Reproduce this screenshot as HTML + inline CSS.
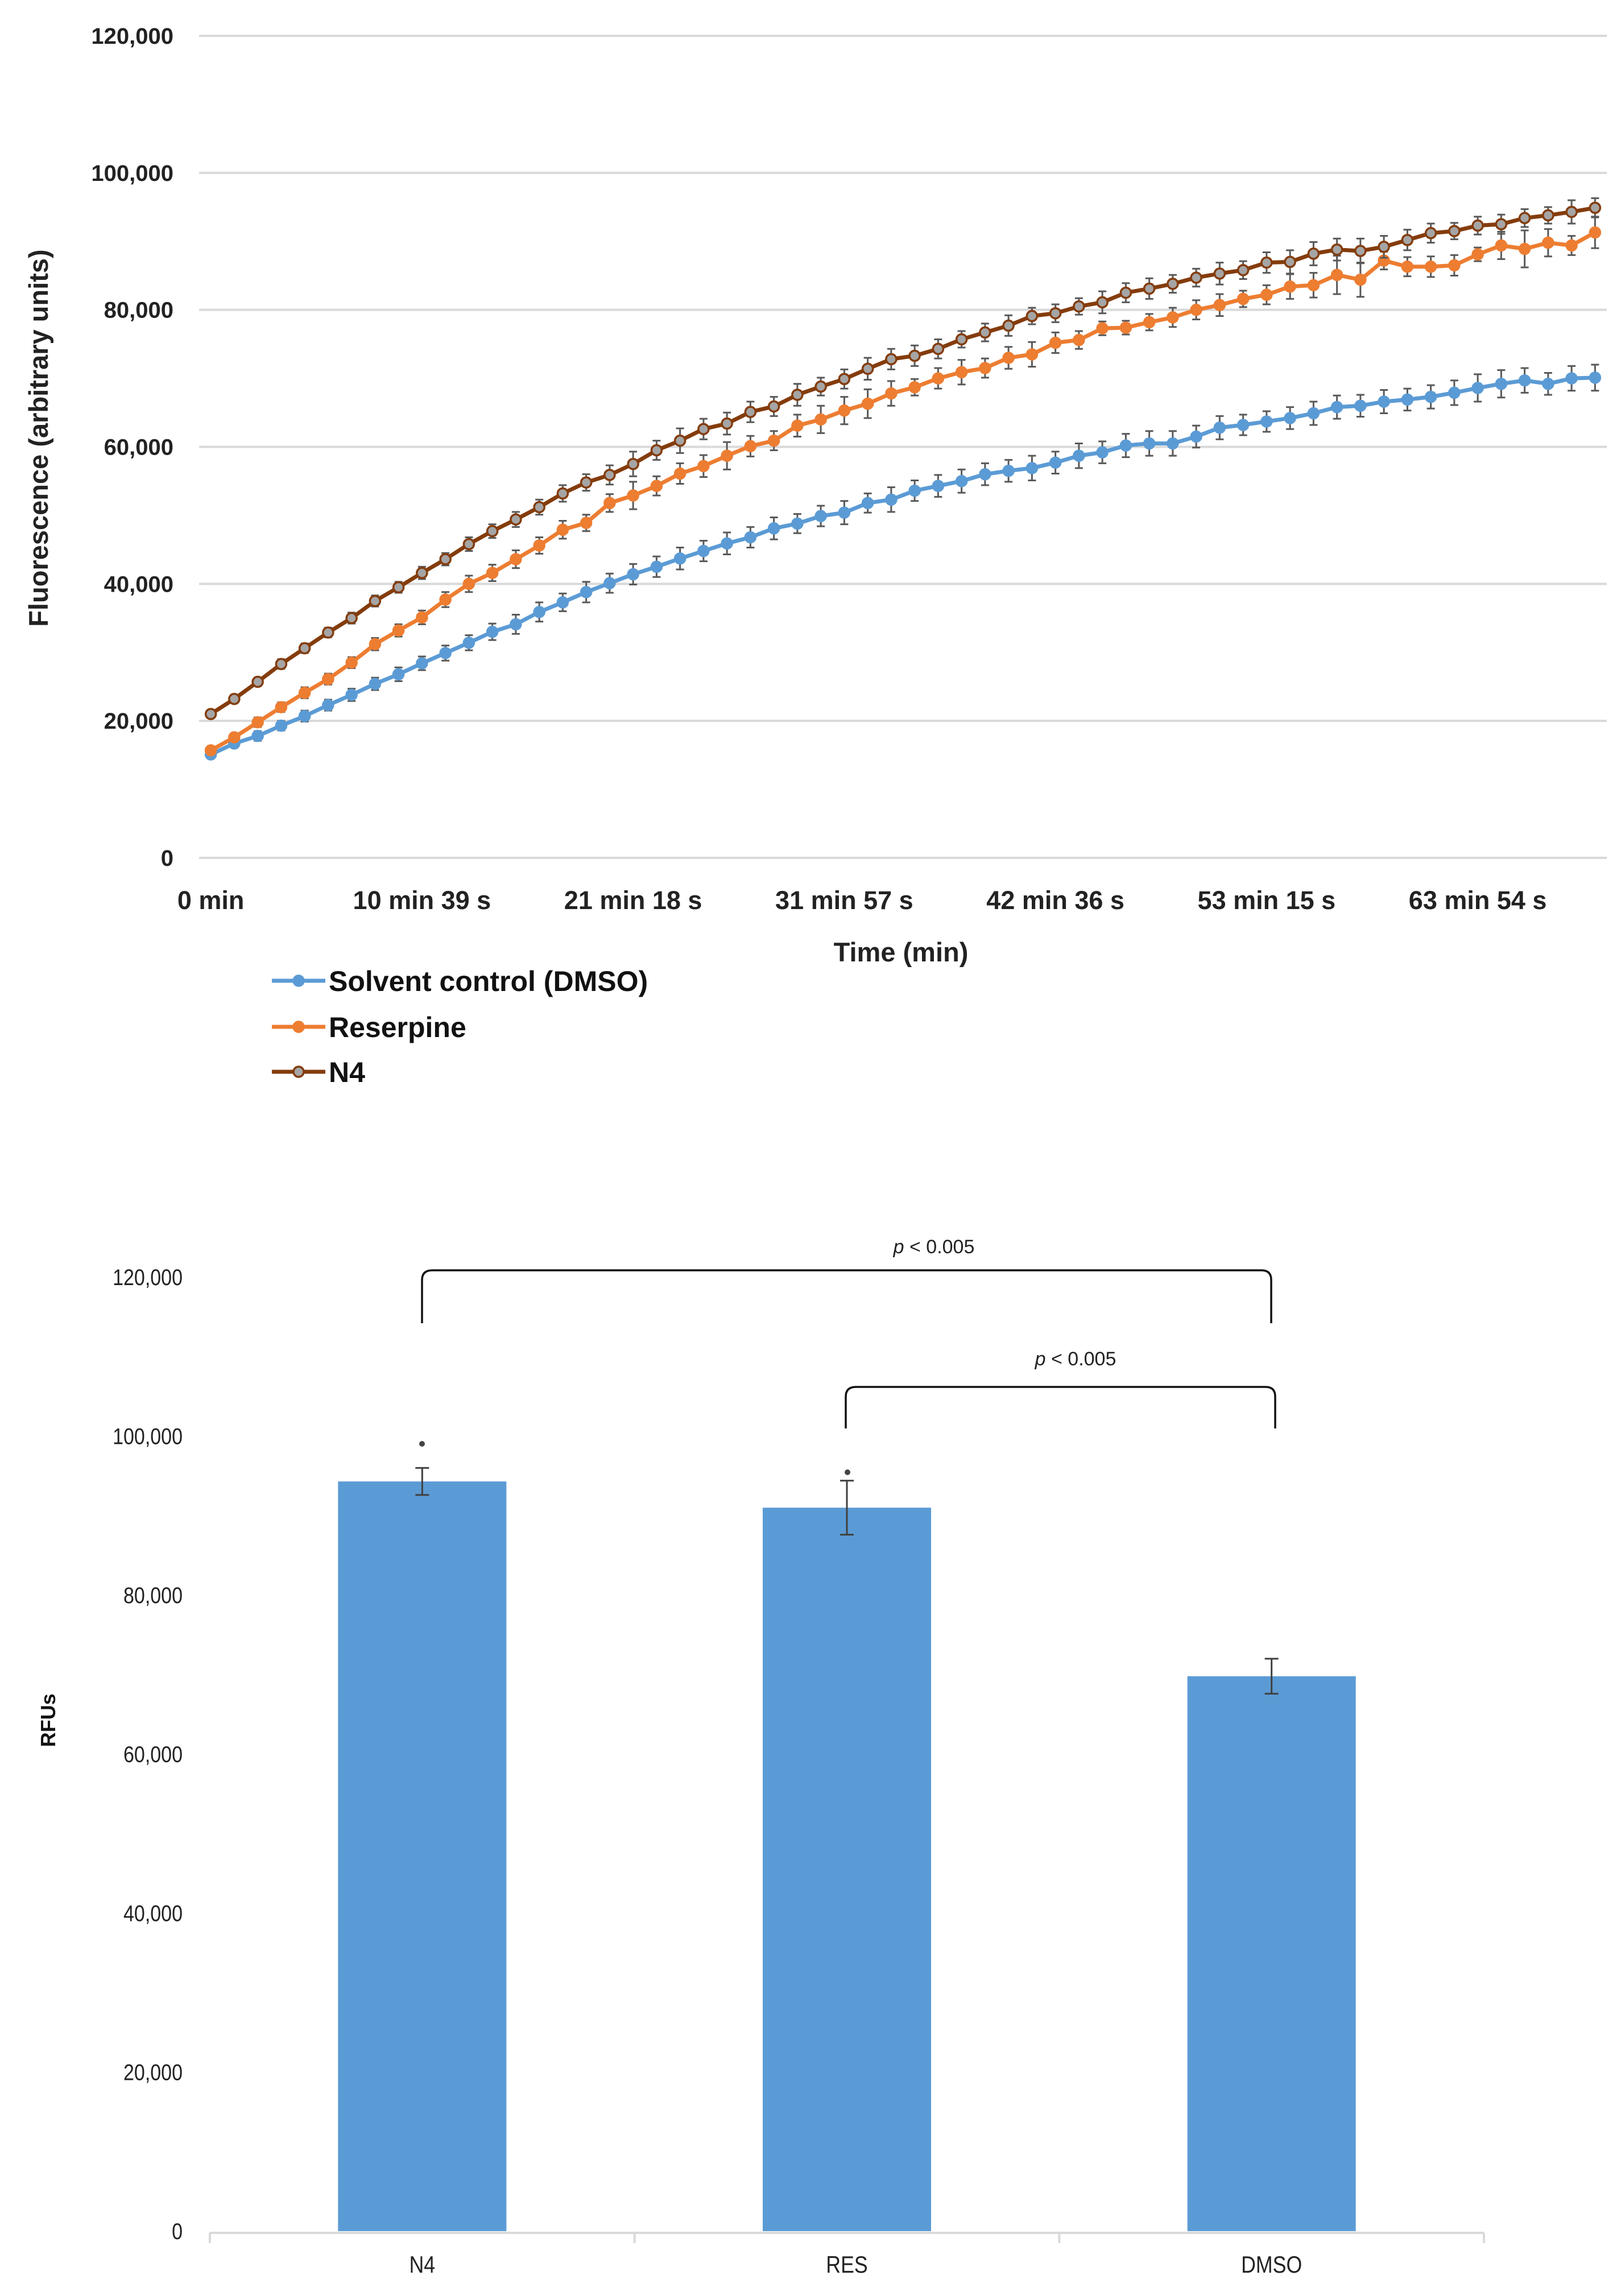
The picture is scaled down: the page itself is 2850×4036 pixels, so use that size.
<!DOCTYPE html>
<html><head><meta charset="utf-8"><style>
html,body{margin:0;padding:0;background:#fff;}
svg{display:block;}
text{font-family:"Liberation Sans",sans-serif;}
</style></head><body>
<svg id="chart" width="2850" height="4036" viewBox="0 0 2850 4036" xmlns="http://www.w3.org/2000/svg">
<g id="topChart"></g>
<g id="bottomChart"></g>
</svg>
<script>
// ---------- Line chart data (values in thousands) ----------
const dmsoValues = [15.1,16.7,17.8,19.3,20.7,22.3,23.8,25.4,26.8,28.4,29.9,31.4,33.0,34.1,35.9,37.3,38.8,40.1,41.4,42.5,43.7,44.8,45.9,46.8,48.1,48.8,
49.9,50.4,51.8,52.3,53.6,54.3,55.0,56.0,56.5,56.9,57.7,58.7,59.2,60.2,60.5,60.5,61.5,62.8,63.2,63.7,64.2,64.9,65.8,66.0,66.6,66.9,67.3,67.9,68.6,69.2,69.7,69.2,70.0,70.1];
const resValues = [15.7,17.6,19.8,22.0,24.1,26.1,28.5,31.2,33.2,35.1,37.7,40.0,41.6,43.6,45.6,47.9,48.9,51.8,52.9,54.3,56.1,57.2,58.7,60.1,60.9,63.1,
64.0,65.3,66.3,67.8,68.7,70.0,70.9,71.5,73.0,73.5,75.2,75.6,77.3,77.4,78.2,78.9,80.0,80.7,81.6,82.2,83.4,83.6,85.1,84.4,87.2,86.3,86.3,86.5,88.1,89.4,88.9,89.8,89.4,91.3];
const n4Values = [21.0,23.2,25.7,28.3,30.6,32.9,35.0,37.5,39.5,41.6,43.6,45.8,47.7,49.4,51.2,53.2,54.8,55.9,57.5,59.5,60.9,62.6,63.4,65.1,65.9,67.6,
68.8,69.9,71.4,72.8,73.3,74.3,75.7,76.7,77.7,79.1,79.5,80.5,81.1,82.5,83.1,83.8,84.7,85.3,85.8,86.9,87.0,88.2,88.8,88.6,89.2,90.2,91.2,91.5,92.3,92.5,93.4,93.8,94.3,94.9];
const dmsoErr = [0.6,0.6,0.7,0.7,0.8,0.8,0.9,0.9,1.0,1.0,1.1,1.1,1.2,1.4,1.4,1.3,1.5,1.4,1.5,1.5,1.6,1.5,1.6,1.5,1.6,1.4,
1.5,1.7,1.4,1.8,1.5,1.6,1.7,1.6,1.6,1.8,1.6,1.8,1.6,1.7,1.8,1.8,1.6,1.7,1.5,1.5,1.6,1.7,1.7,1.6,1.7,1.6,1.7,1.8,2.0,2.0,1.8,1.6,1.8,1.9];
const resErr = [0.5,0.6,0.7,0.7,0.8,0.8,0.8,0.9,0.9,1.0,1.1,1.2,1.2,1.3,1.2,1.3,1.2,1.3,2.0,1.4,1.5,1.6,2.0,1.5,1.4,1.6,
2.0,2.0,2.1,1.8,1.2,1.5,1.8,1.4,1.6,1.8,1.5,1.3,1.0,1.0,1.2,1.4,1.4,1.6,1.2,1.4,1.8,1.8,2.8,2.5,1.3,1.4,1.5,1.5,1.0,2.0,2.7,2.0,1.4,2.3];
const n4Err = [0.6,0.6,0.6,0.7,0.7,0.7,0.8,0.8,0.8,0.9,0.9,1.0,1.0,1.1,1.1,1.2,1.2,1.4,1.8,1.4,1.8,1.5,1.6,1.5,1.4,1.6,
1.3,1.4,1.6,1.5,1.5,1.4,1.2,1.3,1.5,1.2,1.3,1.2,1.6,1.4,1.5,1.3,1.3,1.6,1.3,1.5,1.7,1.7,1.6,1.8,1.6,1.5,1.4,1.2,1.3,1.4,1.3,1.2,1.7,1.4];
const yTicksTop = [0,20000,40000,60000,80000,100000,120000];
const xTickLabels = ["0 min","10 min 39 s","21 min 18 s","31 min 57 s","42 min 36 s","53 min 15 s","63 min 54 s"];
const xTickIndex = [0,9,18,27,36,45,54];

// ---------- Bar chart data ----------
const barCategories = ["N4","RES","DMSO"];
const barValues = [94300,91000,69800];
const barErrors = [1700,3400,2200];
const yTicksBottom = [0,20000,40000,60000,80000,100000,120000];

const NS="http://www.w3.org/2000/svg";
function mk(parent,tag,attrs,text){const e=document.createElementNS(NS,tag);for(const k in attrs)e.setAttribute(k,attrs[k]);if(text!==undefined)e.textContent=text;parent.appendChild(e);return e;}
const fmt=v=>v.toLocaleString('en-US');

// ---- Top chart ----
const topG=document.getElementById('topChart');
const plotL=350,plotR=2825,N=60,step=(plotR-plotL)/N;
const yTop=v=>1508-v/120000*1445;
const xTop=i=>plotL+step*(i+0.5);
yTicksTop.forEach(t=>{
  const g=mk(topG,'line',{x1:plotL,x2:plotR,y1:yTop(t),y2:yTop(t),stroke:'#d9d9d9','stroke-width':4});
  
  
  const l=mk(topG,'text',{x:305,y:yTop(t)+14,'text-anchor':'end','font-size':40,'font-weight':'bold',fill:'#222'},fmt(t));
  
  
});
xTickIndex.forEach((idx,k)=>{
  const l=mk(topG,'text',{x:xTop(idx),y:1598,'text-anchor':'middle','font-size':45,'font-weight':'bold',fill:'#222'},xTickLabels[k]);
  
  
});
let t1=mk(topG,'text',{x:1584,y:1690,'text-anchor':'middle','font-size':47,'font-weight':'bold',fill:'#222'},'Time (min)');


let t2=mk(topG,'text',{x:0,y:0,transform:'translate(84,770) rotate(-90)','text-anchor':'middle','font-size':47,'font-weight':'bold',fill:'#222'},'Fluorescence (arbitrary units)');



const series=[
 {name:'dmso',vals:dmsoValues,err:dmsoErr,color:'#5b9bd5',fill:'#5b9bd5',stroke:'#5b9bd5'},
 {name:'reserpine',vals:resValues,err:resErr,color:'#ed7d31',fill:'#ed7d31',stroke:'#ed7d31'},
 {name:'n4',vals:n4Values,err:n4Err,color:'#843c0c',fill:'#a5a5a5',stroke:'#843c0c'}
];
series.forEach(s=>{
  const g=mk(topG,'g',{});
  
  
  const pts=s.vals.map((v,i)=>xTop(i)+','+yTop(v*1000)).join(' ');
  const pl=mk(g,'polyline',{points:pts,fill:'none',stroke:s.color,'stroke-width':7,'stroke-linejoin':'round'});
  
  
  s.vals.forEach((v,i)=>{
    const x=xTop(i),y1=yTop((v+s.err[i])*1000),y2=yTop((v-s.err[i])*1000);
    const e=mk(g,'path',{d:`M${x},${y1}V${y2}M${x-7},${y1}H${x+7}M${x-7},${y2}H${x+7}`,stroke:'#595959','stroke-width':3,fill:'none'});
    
    
    const c=mk(g,'circle',{cx:x,cy:yTop(v*1000),r:9,fill:s.fill,stroke:s.stroke,'stroke-width':3.5});
    
    
  });
});
// legend
const legendLabels=['Solvent control (DMSO)','Reserpine','N4'];
const legendY=[1724,1805,1884];
series.forEach((s,k)=>{
  const g=mk(topG,'g',{});
  
  
  mk(g,'line',{x1:478,x2:572,y1:legendY[k],y2:legendY[k],stroke:s.color,'stroke-width':7});
  mk(g,'circle',{cx:525,cy:legendY[k],r:9,fill:s.fill,stroke:s.stroke,'stroke-width':3.5});
  mk(g,'text',{x:578,y:legendY[k]+18,'font-size':50,'font-weight':'bold',fill:'#111'},legendLabels[k]);
});

// ---- Bottom chart ----
const botG=document.getElementById('bottomChart');
const bL=369,bR=2609,catW=(bR-bL)/3;
const yBot=v=>3922-v/120000*1677;
const xBot=i=>bL+catW*(i+0.5);
const barW=296;
yTicksBottom.forEach(t=>{
  const l=mk(botG,'text',{x:0,y:0,'text-anchor':'end','font-size':40,fill:'#222',transform:`translate(321,${yBot(t)+14}) scale(0.85,1)`},fmt(t));
  
  
});
let ax=mk(botG,'path',{d:`M${bL},3925H${bR}M${bL},3925v18M${bL+catW},3925v18M${bL+2*catW},3925v18M${bR},3925v18`,stroke:'#d9d9d9','stroke-width':4,fill:'none'});


barCategories.forEach((c,i)=>{
  const x=xBot(i);
  const r=mk(botG,'rect',{x:x-barW/2,y:yBot(barValues[i]),width:barW,height:yBot(0)-yBot(barValues[i]),fill:'#5b9bd5'});
  
  
  const y1=yBot(barValues[i]+barErrors[i]),y2=yBot(barValues[i]-barErrors[i]);
  const e=mk(botG,'path',{d:`M${x},${y1}V${y2}M${x-12},${y1}H${x+12}M${x-12},${y2}H${x+12}`,stroke:'#404040','stroke-width':3,fill:'none'});
  
  
  const l=mk(botG,'text',{x:0,y:0,'text-anchor':'middle','font-size':42,fill:'#222',transform:`translate(${x},3995) scale(0.85,1)`},c);
  
  
});
// asterisks
[[742,2538],[1490,2588]].forEach(p=>{
  const a=mk(botG,'circle',{cx:p[0],cy:p[1],r:5,fill:'#444'});
  
  
});
// brackets
let b1=mk(botG,'path',{d:'M742,2326V2250Q742,2233 760,2233H2218Q2235,2233 2235,2250V2326',stroke:'#111','stroke-width':3.5,fill:'none'});


let b2=mk(botG,'path',{d:'M1487,2511V2455Q1487,2438 1505,2438H2225Q2242,2438 2242,2455V2511',stroke:'#111','stroke-width':3.5,fill:'none'});


let p1=mk(botG,'text',{x:1642,y:2203,'text-anchor':'middle','font-size':34,'font-family':'Liberation Serif, serif',fill:'#222'});
mk(p1,'tspan',{'font-style':'italic'},'p');
mk(p1,'tspan',{},' < 0.005');


let p2=mk(botG,'text',{x:1891,y:2400,'text-anchor':'middle','font-size':34,'font-family':'Liberation Serif, serif',fill:'#222'});
mk(p2,'tspan',{'font-style':'italic'},'p');
mk(p2,'tspan',{},' < 0.005');


let rf=mk(botG,'text',{x:0,y:0,transform:'translate(97,3024) rotate(-90)','text-anchor':'middle','font-size':36,'font-weight':'bold',fill:'#111'},'RFUs');


</script>
</body></html>
